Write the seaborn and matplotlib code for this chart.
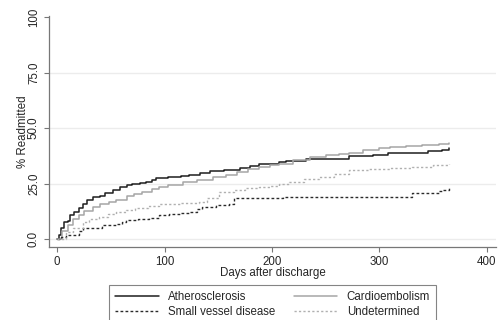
import matplotlib

matplotlib.use("Agg")

import matplotlib.pyplot as plt
import pandas as pd
import seaborn as sns

# =============================================================================
# Data
# =============================================================================
athero_days = [0, 2, 4, 6, 10, 12, 16, 20, 24, 28, 33, 40, 45, 52, 59, 65, 70,
               77, 83, 88, 92, 103, 115, 123, 133, 142, 155, 170, 180, 188, 198,
               207, 213, 232, 250, 272, 285, 294, 308, 325, 338, 345, 358, 365]
athero_vals = [0, 2, 5, 7.8, 8, 11, 12.3, 14, 16, 17.5, 19, 19.5, 20.6, 22, 23.6,
               24.5, 25, 25.4, 25.8, 26.5, 27.3, 28, 28.3, 28.8, 29.7, 30.6, 31.2,
               31.8, 32.8, 33.6, 34, 34.8, 35.2, 36, 36.1, 37.4, 37.6, 37.8, 38.6,
               38.6, 38.6, 39.8, 40.1, 40.8]

cardio_days = [0, 5, 10, 15, 20, 25, 33, 40, 48, 55, 65, 72, 79, 88, 95, 103,
               117, 130, 145, 157, 167, 178, 188, 198, 207, 220, 235, 250, 262,
               272, 285, 300, 310, 325, 340, 355, 365]
cardio_vals = [0, 3.5, 6.5, 9, 11, 12.5, 14.6, 15.8, 16.8, 17.5, 19.2, 20.3, 21.3,
               22.5, 23.3, 24.3, 25.6, 26.5, 27.8, 29, 30.3, 31.5, 32.6, 33.3, 34,
               35.5, 37, 37.7, 38.3, 38.9, 40, 40.8, 41.6, 42, 42.5, 43, 43.4]

svd_days = [0, 4, 8, 15, 20, 24, 30, 42, 55, 60, 64, 75, 86, 95, 104, 115, 123,
            130, 135, 148, 160, 165, 207, 210, 323, 330, 350, 355, 358, 365]
svd_vals = [0, 1, 1.8, 2, 3.5, 4.8, 5, 6.3, 6.8, 7.5, 8.6, 8.8, 9.3, 10.8, 11.3,
            11.6, 12.3, 13.5, 14.6, 15.2, 16, 18.3, 18.3, 19, 19, 20.6, 20.8, 21.5,
            22, 22.8]

undet_days = [0, 8, 15, 24, 30, 39, 47, 55, 64, 73, 85, 95, 103, 115, 132, 140,
              151, 165, 175, 188, 198, 207, 216, 230, 244, 258, 272, 290, 310,
              330, 350, 365]
undet_vals = [0, 3, 5, 7.8, 8.8, 10, 11.2, 12.3, 13, 13.8, 14.8, 15.6, 16, 16.2,
              16.8, 18.5, 21.3, 22, 22.8, 23.6, 23.8, 25, 25.8, 27, 28, 29.5, 31,
              31.4, 31.8, 32.6, 33.4, 34]

labels = ["Atherosclerosis", "Cardioembolism", "Small vessel disease", "Undetermined"]
y_ticks = [0, 25, 50, 75, 100]
y_ticklabels = ["0.0", "25.0", "50.0", "75.0", "100"]
x_ticks = [0, 100, 200, 300, 400]

# =============================================================================
# Plot
# =============================================================================
sns.set_theme(style="white")
plt.rcParams["font.family"] = ["Liberation Sans", "DejaVu Sans"]
fs = 8.3

fig = plt.figure(figsize=(5.02, 3.2), dpi=100)
ax = fig.add_axes([49 / 502, 1 - 247 / 320, (496 - 49) / 502, (247 - 16) / 320])

series = [
    (athero_days, athero_vals, "#1e1e1e", "-", 1.1),
    (cardio_days, cardio_vals, "#a6a6a6", "-", 1.1),
    (svd_days, svd_vals, "#2a2a2a", (0, (2.0, 1.6)), 1.0),
    (undet_days, undet_vals, "#b0b0b0", (0, (1.6, 1.6)), 1.0),
]
for (d, v, c, ls, lw), lab in zip(series, labels):
    df = pd.DataFrame({"days": d, "pct": v})
    sns.lineplot(data=df, x="days", y="pct", ax=ax, color=c, linestyle=ls,
                 linewidth=lw, drawstyle="steps-post", estimator=None,
                 label=lab, legend=False)

for g in [0, 25, 50, 75]:
    ax.axhline(g, color="#ececec", linewidth=1.0, zorder=0)

ax.set_xlim(-7.5, 408.5)
ax.set_ylim(-3.6, 100.5)
ax.set_xticks(x_ticks)
ax.set_yticks(y_ticks)
ax.set_yticklabels(y_ticklabels, rotation=90, va="center")
ax.tick_params(axis="both", which="major", labelsize=fs, length=3.5, width=0.8,
               color="#777777", direction="out", left=True, bottom=True)
ax.tick_params(axis="y", pad=3)
ax.tick_params(axis="x", pad=3)

ax.set_xlabel("Days after discharge", fontsize=fs, labelpad=-0.5)
ax.set_ylabel("% Readmitted", fontsize=fs, labelpad=-1)

for side in ["top", "right"]:
    ax.spines[side].set_visible(False)
for side in ["left", "bottom"]:
    ax.spines[side].set_color("#777777")
    ax.spines[side].set_linewidth(0.9)

# legend rows go across in the reference, matplotlib fills by column
handles, labs = ax.get_legend_handles_labels()
order = [0, 2, 1, 3]
leg = fig.legend([handles[i] for i in order], [labs[i] for i in order],
                 loc="upper center", ncol=2,
                 bbox_to_anchor=(272.5 / 502, 1 - 285 / 320), fontsize=fs,
                 frameon=True, fancybox=False, edgecolor="#666666",
                 handlelength=3.8, handletextpad=0.8, columnspacing=1.6,
                 labelspacing=0.3, borderpad=0.5, borderaxespad=0)
leg.get_frame().set_linewidth(0.8)

fig.savefig("out.png", dpi=100)
